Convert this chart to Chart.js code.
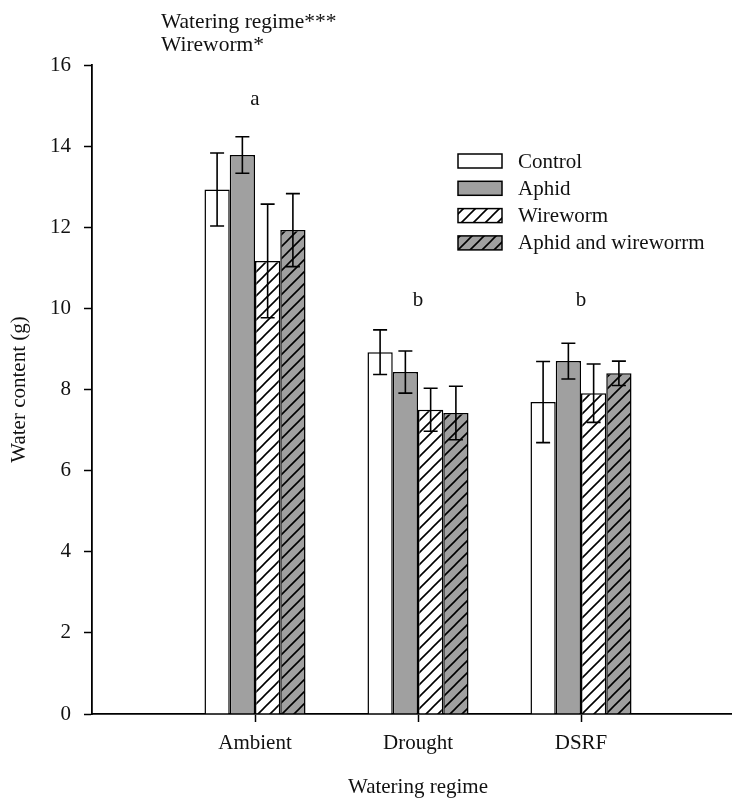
<!DOCTYPE html>
<html>
<head>
<meta charset="utf-8">
<script src="https://cdn.jsdelivr.net/npm/chart.js@4.4.1/dist/chart.umd.min.js"></script>
<style>
  html, body { margin: 0; padding: 0; background: #fff; }
  #wrap { width: 732px; height: 798px; overflow: hidden; }
</style>
</head>
<body>
<div id="wrap"><canvas id="waterChart" width="760" height="798"></canvas></div>
<script>
// Water content (g) per watering regime and herbivore treatment
const categories = ["Ambient", "Drought", "DSRF"];
const treatments = ["Control", "Aphid", "Wireworm", "Aphid and wireworrm"];

const control = [12.93, 8.92, 7.69];
const aphid = [13.78, 8.43, 8.70];
const wireworm = [11.17, 7.50, 7.91];
const aphidWireworm = [11.93, 7.42, 8.40];

// standard errors
const controlErr = [0.90, 0.55, 1.00];
const aphidErr = [0.45, 0.52, 0.44];
const wirewormErr = [1.40, 0.53, 0.72];
const aphidWirewormErr = [0.90, 0.66, 0.30];

// letters from post-hoc comparison, and the height they sit at
const groupLetters = ["a", "b", "b"];
const letterLevels = [15.15, 10.2, 10.2];

const anovaNotes = ["Watering regime***", "Wireworm*"];

const yTicks = [0, 2, 4, 6, 8, 10, 12, 14, 16];

const FONT = '"Liberation Serif", "Times New Roman", serif';
const GREY = "#a0a0a0";

// empty slots either side so the groups sit at 1/4, 2/4, 3/4 of the axis
const labels = ["", ...categories, ""];
const pad = arr => [null, ...arr, null];

function hatch(bg) {
  const s = 12;
  const c = document.createElement("canvas");
  c.width = s; c.height = s;
  const g = c.getContext("2d");
  g.fillStyle = bg;
  g.fillRect(0, 0, s, s);
  g.strokeStyle = "#000";
  g.lineWidth = 1.6;
  g.beginPath();
  g.moveTo(-2, s + 2); g.lineTo(s + 2, -2);
  g.moveTo(-2, 2); g.lineTo(2, -2);
  g.moveTo(s - 2, s + 2); g.lineTo(s + 2, s - 2);
  g.stroke();
  return g.createPattern(c, "repeat");
}

const fills = ["#ffffff", GREY, hatch("#ffffff"), hatch(GREY)];
const series = [control, aphid, wireworm, aphidWireworm];
const errors = [controlErr, aphidErr, wirewormErr, aphidWirewormErr];

const datasets = treatments.map((name, i) => ({
  label: name,
  data: pad(series[i]),
  err: pad(errors[i]),
  backgroundColor: fills[i],
  borderColor: "#000",
  borderWidth: 1.5,
  categoryPercentage: 0.62,
  barPercentage: 1.0
}));

const errorBars = {
  id: "errorBars",
  afterDatasetsDraw(chart) {
    const { ctx, scales: { y } } = chart;
    ctx.save();
    ctx.strokeStyle = "#000";
    ctx.lineWidth = 1.6;
    chart.data.datasets.forEach((ds, di) => {
      const meta = chart.getDatasetMeta(di);
      meta.data.forEach((bar, j) => {
        const v = ds.data[j];
        if (v == null) return;
        const top = y.getPixelForValue(v + ds.err[j]);
        const bot = y.getPixelForValue(v - ds.err[j]);
        const cap = 7;
        ctx.beginPath();
        ctx.moveTo(bar.x, top); ctx.lineTo(bar.x, bot);
        ctx.moveTo(bar.x - cap, top); ctx.lineTo(bar.x + cap, top);
        ctx.moveTo(bar.x - cap, bot); ctx.lineTo(bar.x + cap, bot);
        ctx.stroke();
      });
    });
    ctx.restore();
  }
};

const extras = {
  id: "extras",
  afterDraw(chart) {
    const { ctx, scales: { x, y } } = chart;
    ctx.save();
    ctx.fillStyle = "#111";
    ctx.font = "21px " + FONT;

    // significance letters over each group
    ctx.textAlign = "center";
    ctx.textBaseline = "middle";
    groupLetters.forEach((t, i) => {
      ctx.fillText(t, x.getPixelForValue(i + 1), y.getPixelForValue(letterLevels[i]));
    });

    // ANOVA notes, top left
    ctx.textAlign = "left";
    ctx.font = "21.5px " + FONT;
    anovaNotes.forEach((t, i) => ctx.fillText(t, 161, 22 + i * 23));
    ctx.font = "21px " + FONT;

    // legend
    const lx = 458, ly = 161, step = 27.3, bw = 44, bh = 14;
    chart.data.datasets.forEach((ds, i) => {
      const cy = ly + i * step;
      ctx.fillStyle = ds.backgroundColor;
      ctx.fillRect(lx, cy - bh / 2, bw, bh);
      ctx.strokeStyle = "#000";
      ctx.lineWidth = 1.5;
      ctx.strokeRect(lx, cy - bh / 2, bw, bh);
      ctx.fillStyle = "#111";
      ctx.fillText(ds.label, 518, cy + 1);
    });
    ctx.restore();
  }
};

new Chart(document.getElementById("waterChart"), {
  type: "bar",
  data: { labels, datasets },
  options: {
    responsive: false,
    animation: false,
    layout: { padding: { top: 65, right: 16, left: 0, bottom: 0 } },
    plugins: { legend: { display: false }, tooltip: { enabled: false } },
    scales: {
      x: {
        offset: false,
        afterFit: s => { s.height = 84; },
        border: { color: "#000", width: 1.8 },
        grid: {
          offset: false,
          drawOnChartArea: false,
          tickLength: 8,
          tickWidth: 1.5,
          tickColor: c => (c.index === 0 || c.index === labels.length - 1) ? "rgba(0,0,0,0)" : "#000"
        },
        ticks: { color: "#111", padding: 9, maxRotation: 0, autoSkip: false, font: { family: FONT, size: 21 } },
        title: {
          display: true, text: "Watering regime", color: "#111",
          padding: { top: 0, bottom: 0 },
          font: { family: FONT, size: 21, lineHeight: 1 }
        }
      },
      y: {
        min: 0, max: 16,
        afterFit: s => { s.width = 92; },
        afterBuildTicks: s => { s.ticks = yTicks.map(v => ({ value: v })); },
        border: { color: "#000", width: 1.8 },
        grid: { drawOnChartArea: false, tickLength: 8, tickWidth: 1.5, tickColor: "#000" },
        ticks: { color: "#111", padding: 13, font: { family: FONT, size: 21 } },
        title: {
          display: true, text: "Water content (g)", color: "#111",
          padding: { top: 9, bottom: 0 },
          font: { family: FONT, size: 21, lineHeight: 1 }
        }
      }
    }
  },
  plugins: [errorBars, extras]
});
</script>
</body>
</html>
